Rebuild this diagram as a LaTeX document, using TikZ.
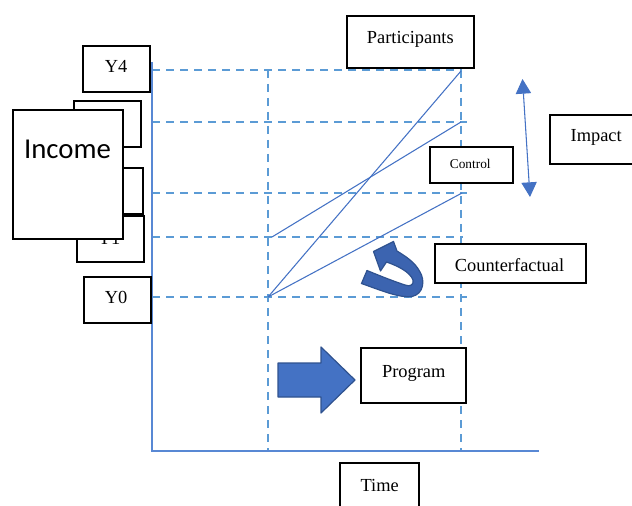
\documentclass[tikz,border=0pt]{standalone}
\usepackage{fontspec}
\setmainfont{Liberation Serif}
\newfontfamily\calib{Carlito}
\usetikzlibrary{arrows.meta}
\definecolor{dashblue}{RGB}{91,155,213}
\definecolor{lineblue}{RGB}{68,114,196}
\definecolor{axisblue}{RGB}{88,136,212}
\definecolor{arrowfill}{RGB}{68,114,196}
\definecolor{arrowedge}{RGB}{47,82,143}
\definecolor{curvefill}{RGB}{60,100,176}
\begin{document}
\begin{tikzpicture}[x=0.75pt,y=-0.75pt,
  box/.style={draw=black, line width=0.9pt, fill=white, inner sep=0pt},
  sz/.style 2 args={minimum width=#1*0.75pt, minimum height=#2*0.75pt},
  lbl/.style={font=\fontsize{13.8}{16}\selectfont, inner sep=0pt, anchor=base},
  small/.style={font=\fontsize{10}{12}\selectfont, inner sep=0pt, anchor=base},
  gridline/.style={dashblue, line width=1.5pt, dash pattern=on 6.2pt off 4.3pt},
  axis/.style={axisblue, line width=1.2pt},
  trend/.style={lineblue, line width=0.8pt},
  blockarrow/.style={fill=arrowfill, draw=arrowedge, line width=0.9pt, line join=round},
  curvearrow/.style={fill=curvefill, draw=arrowedge, line width=0.9pt, line join=round}]
\useasboundingbox (0,0) rectangle (632,506);

% grid points
\coordinate (a0) at (152,297);
\coordinate (a1) at (152,237);
\coordinate (a2) at (152,193);
\coordinate (a3) at (152,122);
\coordinate (a4) at (152,70);
\coordinate (e0) at (467,297);
\coordinate (e1) at (463,237);
\coordinate (e2) at (467,193);
\coordinate (e3) at (467,122);
\coordinate (e4) at (462,70);
\coordinate (v1t) at (268,70);
\coordinate (v1b) at (268,451);
\coordinate (v2t) at (461,70);
\coordinate (v2b) at (461,451);
\coordinate (axtop) at (152,62);
\coordinate (origin) at (152,451);
\coordinate (axend) at (539,451);

% dashed grid
\draw[gridline] (a4) -- (e4);
\draw[gridline] (a3) -- (e3);
\draw[gridline] (a2) -- (e2);
\draw[gridline] (a1) -- (e1);
\draw[gridline] (a0) -- (e0);
\draw[gridline] (v1t) -- (v1b);
\draw[gridline] (v2t) -- (v2b);

% axes
\draw[axis] (axtop) -- (origin) -- (axend);

% trend lines
\coordinate (s0) at (268,297);
\coordinate (s1) at (272,237);
\coordinate (f4) at (461,71);
\coordinate (f3) at (461,122);
\coordinate (f2) at (462,193);
\draw[trend] (s0) -- (f4);
\draw[trend] (s1) -- (f3);
\draw[trend] (s0) -- (f2);

% left value boxes
\node[box, sz={67}{46}] (y4) at (116.5,69) {};
\node[lbl] (y4t) at (116,73) {Y4};
\node[box, sz={67}{46}] (y3) at (107.5,124) {};
\node[box, sz={67}{46}] (y2) at (109.5,191) {};
\node[box, sz={67}{46}] (y1) at (110.5,239) {};
\node[lbl] (y1t) at (109,244) {Y1};
\node[box, sz={110}{129}] (inc) at (68,174.5) {};
\node[inner sep=0pt, anchor=base, font=\calib\fontsize{21.6}{24}\selectfont] (inct) at (67.5,159) {Income};
\node[box, sz={67}{46}] (y0) at (117.5,300) {};
\node[lbl] (y0t) at (116,303) {Y0};

% right labels
\node[box, sz={127}{52}] (part) at (410.5,42) {};
\node[lbl] (partt) at (410.3,44) {Participants};
\node[box, sz={83}{36}] (ctrl) at (471.5,165) {};
\node[small] (ctrlt) at (470.3,169) {Control};
\node[box, sz={84}{49}] (imp) at (592,139.5) {};
\node[lbl] (impt) at (596.2,142) {Impact};
\node[box, sz={151}{39}] (cf) at (510.5,263.5) {};
\node[lbl] (cft) at (509.5,272) {Counterfactual};
\node[box, sz={105}{55}] (prog) at (413.5,375.5) {};
\node[lbl] (progt) at (413.7,377) {Program};
\node[box, sz={79}{50}] (time) at (379.5,488) {};
\node[lbl] (timet) at (379.7,491) {Time};

% impact double arrow
\coordinate (it) at (522.5,79);
\coordinate (ib) at (530,197);
\draw[lineblue, line width=0.8pt, {Triangle[width=11.5pt,length=11pt]}-{Triangle[width=11.5pt,length=11pt]}] (it) -- (ib);

% program block arrow
\draw[blockarrow] (278,363) -- (321,363) -- (321,347) -- (355,380) -- (321,413) -- (321,397) -- (278,397) -- cycle;

% counterfactual curved arrow
\draw[curvearrow] (367,270.5) -- (361.5,283.5)
  .. controls (385,292) and (400,298) .. (412,296.5)
  .. controls (424,294) and (425,280) .. (420,272)
  .. controls (415,262) and (405,256) .. (397,251)
  -- (393.5,241.5) -- (373.5,251.5) -- (380.5,271) -- (386.5,262)
  .. controls (398,266) and (410,272) .. (413,280)
  .. controls (414,285) and (410,287) .. (405,285)
  .. controls (390,280) and (378,275) .. (367,270.5) -- cycle;
\end{tikzpicture}
\end{document}
